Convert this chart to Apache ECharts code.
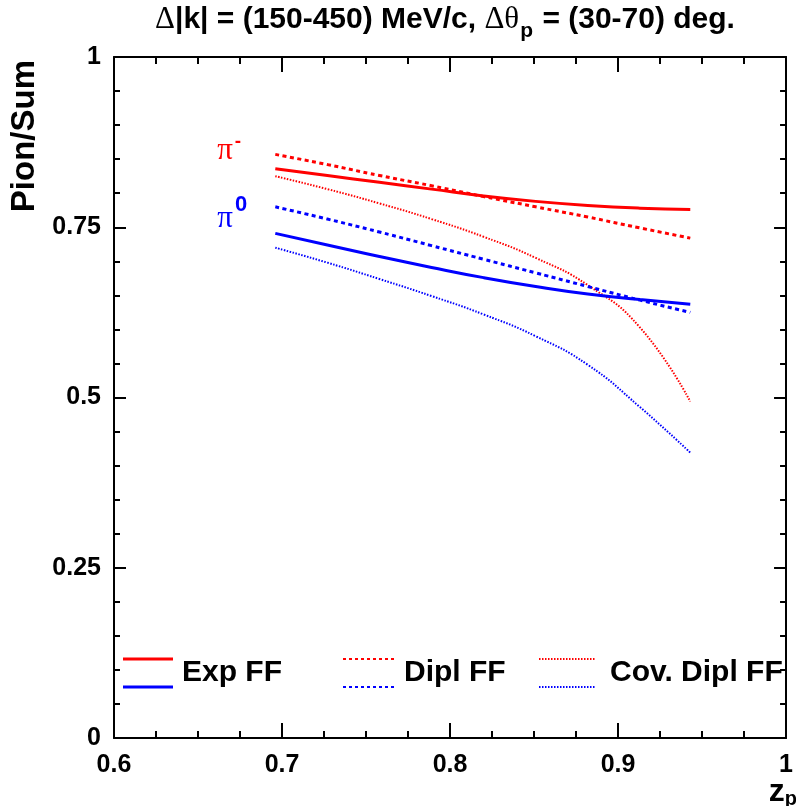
<!DOCTYPE html>
<html>
<head>
<meta charset="utf-8">
<script src="https://cdn.jsdelivr.net/npm/echarts@6/dist/echarts.min.js"></script>
<style>
html,body{margin:0;padding:0;background:#fff;}
#chart{width:796px;height:806px;}
</style>
</head>
<body>
<div id="chart"></div>
<script>
// ---- data ----
var zp = [0.696, 0.727, 0.758, 0.789, 0.820, 0.851, 0.882, 0.913, 0.943];
var piMinusExp  = [0.836, 0.826, 0.816, 0.806, 0.796, 0.788, 0.782, 0.778, 0.776];
var piMinusDipl = [0.857, 0.842, 0.826, 0.811, 0.795, 0.780, 0.765, 0.749, 0.734];
var piMinusCov  = [0.825, 0.806, 0.785, 0.762, 0.736, 0.705, 0.665, 0.603, 0.494];
var piZeroExp   = [0.741, 0.724, 0.707, 0.691, 0.676, 0.663, 0.652, 0.644, 0.637];
var piZeroDipl  = [0.780, 0.762, 0.743, 0.723, 0.703, 0.683, 0.663, 0.643, 0.625];
var piZeroCov   = [0.720, 0.698, 0.674, 0.649, 0.622, 0.590, 0.548, 0.486, 0.419];
var xTicks = [0.6, 0.7, 0.8, 0.9, 1];
var yTicks = [0, 0.25, 0.5, 0.75, 1];
var legendNames = ['Exp FF', 'Dipl FF', 'Cov. Dipl FF'];

function pts(arr){ return zp.map(function(z,i){ return [z, arr[i]]; }); }

var RED = '#ff0000', BLUE = '#0000ff';
var chart = echarts.init(document.getElementById('chart'), null, {renderer:'canvas'});

function fmt(v){ return String(+v.toFixed(3)); }

var axisCommon = {
  axisLine: {show:true, onZero:false, lineStyle:{color:'#000', width:2}},
  splitLine: {show:false}
};

function series(name, arr, color, type){
  var ls = {color: color, width: 3, type: 'solid'};
  if (type === 'dashed') { ls.width = 3; ls.type = [4, 3.5]; }
  if (type === 'dotted') { ls.width = 2; ls.type = [1.5, 1.5]; }
  return {name: name, type:'line', data: pts(arr), smooth: 0.5, showSymbol:false,
          lineStyle: ls, clip: true, z: type === 'solid' ? 3 : 2};
}

var option = {
  animation: false,
  backgroundColor: '#fff',
  grid: {left:114, right:2, top:57, bottom:68, containLabel:false},
  xAxis: [
    Object.assign({}, axisCommon, {
      type:'value', min:0.6, max:1, interval:0.1, position:'bottom',
      axisTick:{show:true, inside:true, length:15, lineStyle:{color:'#000', width:2}},
      minorTick:{show:true, splitNumber:4, length:7, lineStyle:{color:'#000', width:2}},
      minorSplitLine:{show:false},
      axisLabel:{show:true, margin:15, fontFamily:'Liberation Sans, Arial, sans-serif', fontWeight:'bold', fontSize:25, color:'#000',
        formatter:function(v){ return xTicks.indexOf(+v.toFixed(3))>=0 ? fmt(v) : ''; }}
    }),
    Object.assign({}, axisCommon, {
      type:'value', min:0.6, max:1, interval:0.1, position:'top',
      axisTick:{show:true, inside:true, length:15, lineStyle:{color:'#000', width:2}},
      minorTick:{show:true, splitNumber:4, length:7, lineStyle:{color:'#000', width:2}},
      axisLabel:{show:false}
    })
  ],
  yAxis: [
    Object.assign({}, axisCommon, {
      type:'value', min:0, max:1, interval:0.25, position:'left',
      axisTick:{show:true, inside:true, length:12, lineStyle:{color:'#000', width:2}},
      minorTick:{show:true, splitNumber:5, length:6, lineStyle:{color:'#000', width:2}},
      axisLabel:{show:true, margin:13, fontFamily:'Liberation Sans, Arial, sans-serif', fontWeight:'bold', fontSize:25, color:'#000',
        formatter:function(v){ return yTicks.indexOf(+v.toFixed(3))>=0 ? fmt(v) : ''; }}
    }),
    Object.assign({}, axisCommon, {
      type:'value', min:0, max:1, interval:0.25, position:'right',
      axisTick:{show:true, inside:true, length:12, lineStyle:{color:'#000', width:2}},
      minorTick:{show:true, splitNumber:5, length:6, lineStyle:{color:'#000', width:2}},
      axisLabel:{show:false}
    })
  ],
  series: [
    series('π- ' + legendNames[0], piMinusExp, RED, 'solid'),
    series('π- ' + legendNames[1], piMinusDipl, RED, 'dashed'),
    series('π- ' + legendNames[2], piMinusCov, RED, 'dotted'),
    series('π0 ' + legendNames[0], piZeroExp, BLUE, 'solid'),
    series('π0 ' + legendNames[1], piZeroDipl, BLUE, 'dashed'),
    series('π0 ' + legendNames[2], piZeroCov, BLUE, 'dotted')
  ]
};

// ---- texts and legend as graphic elements ----
var SANS = 'Liberation Sans, Arial, sans-serif';
var SERIF = 'Liberation Serif, Times New Roman, serif';
var g = [];
// title
g.push({type:'text', x:445, y:20, style:{
  text:'{g|Δ}{b||k| = (150-450) MeV/c, }{g|Δθ}{s|p}{b| = (30-70) deg.}',
  align:'center', verticalAlign:'middle',
  rich:{
    b:{fontFamily:SANS, fontWeight:'bold', fontSize:30, fill:'#000', lineHeight:44, verticalAlign:'middle'},
    g:{fontFamily:SERIF, fontWeight:'normal', fontSize:31, fill:'#000', lineHeight:44, verticalAlign:'middle'},
    s:{fontFamily:SANS, fontWeight:'bold', fontSize:21, fill:'#000', lineHeight:44, verticalAlign:'bottom', padding:[0,1,0,1]}
  }
}});
// y axis title
g.push({type:'text', x:25, y:60, rotation:Math.PI/2, style:{
  text:'Pion/Sum', align:'right', verticalAlign:'middle',
  font:'bold 33px ' + SANS, fill:'#000'}});
// x axis title
g.push({type:'text', x:797, y:792, style:{
  text:'{z|z}{p|p}', align:'right', verticalAlign:'middle',
  rich:{
    z:{fontFamily:SANS, fontWeight:'bold', fontSize:32, fill:'#000', lineHeight:34, verticalAlign:'middle'},
    p:{fontFamily:SANS, fontWeight:'bold', fontSize:20, fill:'#000', lineHeight:34, verticalAlign:'bottom'}
  }}});
// pion labels
g.push({type:'text', x:225, y:151, style:{text:'π', align:'center', verticalAlign:'middle', font:'31px ' + SERIF, fill:RED}});
g.push({type:'text', x:238, y:142, style:{text:'-', align:'center', verticalAlign:'middle', font:'bold 19px ' + SANS, fill:RED}});
g.push({type:'text', x:225, y:219, style:{text:'π', align:'center', verticalAlign:'middle', font:'31px ' + SERIF, fill:BLUE}});
g.push({type:'text', x:241, y:205, style:{text:'0', align:'center', verticalAlign:'middle', font:'bold 22px ' + SANS, fill:BLUE}});

// legend
var legendCfg = [
  {x1:123, x2:173, tx:182, type:'solid'},
  {x1:343, x2:395, tx:404, type:'dashed'},
  {x1:539, x2:596, tx:610, type:'dotted'}
];
legendCfg.forEach(function(c, i){
  var w = c.type === 'solid' ? 3 : 2;
  var dash = c.type === 'solid' ? null : (c.type === 'dashed' ? [3, 3] : [1.5, 1.5]);
  [[659, RED], [687, BLUE]].forEach(function(r){
    g.push({type:'line', shape:{x1:c.x1, y1:r[0], x2:c.x2, y2:r[0]},
      style:{stroke:r[1], lineWidth:w, lineDash:dash}});
  });
  g.push({type:'text', x:c.tx, y:673, style:{text:legendNames[i], align:'left', verticalAlign:'middle',
    font:'bold 30px ' + SANS, fill:'#000'}});
});
option.graphic = g;

chart.setOption(option);
</script>
</body>
</html>
